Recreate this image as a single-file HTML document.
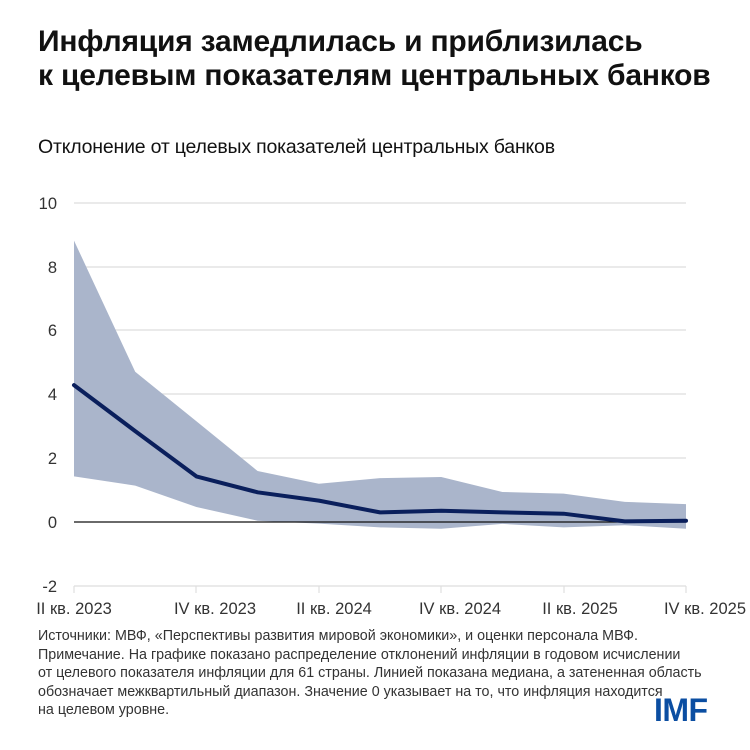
<!DOCTYPE html>
<html><head><meta charset="utf-8"><style>
body{margin:0;width:750px;height:750px;background:#fff;overflow:hidden;font-family:"Liberation Sans",sans-serif;color:#111;position:relative}
.t{position:absolute;left:38px;top:25px;font-size:30px;font-weight:bold;line-height:34px;letter-spacing:-0.2px}
.s{position:absolute;left:38px;top:136px;font-size:19.5px;letter-spacing:-0.2px}
.n{position:absolute;left:38px;top:627px;font-size:14.3px;line-height:18.6px;color:#333;width:690px}
.imf{position:absolute;left:654px;top:692px;font-size:32px;font-weight:bold;color:#0b4ea2;letter-spacing:-0.5px}
svg{position:absolute;left:0;top:0}
svg text{font-family:"Liberation Sans",sans-serif;font-size:16.5px;fill:#333}
</style></head><body>
<div class="t">Инфляция замедлилась и приблизилась<br>к целевым показателям центральных банков</div>
<div class="s">Отклонение от целевых показателей центральных банков</div>
<svg width="750" height="750">
<g stroke="#dedede" stroke-width="1.2">
<line x1="74" x2="686" y1="203" y2="203"/><line x1="74" x2="686" y1="267" y2="267"/>
<line x1="74" x2="686" y1="330" y2="330"/><line x1="74" x2="686" y1="394" y2="394"/>
<line x1="74" x2="686" y1="458" y2="458"/><line x1="74" x2="686" y1="586" y2="586"/>
<line x1="74" x2="74" y1="586" y2="593"/><line x1="196" x2="196" y1="586" y2="593"/>
<line x1="319" x2="319" y1="586" y2="593"/><line x1="441" x2="441" y1="586" y2="593"/>
<line x1="564" x2="564" y1="586" y2="593"/><line x1="686" x2="686" y1="586" y2="593"/>
</g>
<polygon fill="#aab5cb" points="74,240.6 135.2,371.8 196.4,421.2 257.6,471 318.8,483.7 380,478.1 441.2,477 502.4,492 563.6,493.6 624.8,501.9 686,504.1 686,528.7 624.8,525.2 563.6,527.4 502.4,523.9 441.2,528.7 380,527.4 318.8,523.6 257.6,520.7 196.4,507 135.2,485.6 74,476.4"/>
<line x1="74" x2="686" y1="522" y2="522" stroke="#111" stroke-width="1.3"/>
<polyline fill="none" stroke="#0a1f5c" stroke-width="4" stroke-linejoin="round" stroke-linecap="round" points="74,385.1 135.2,431.1 196.4,476.4 257.6,492.3 318.8,500.6 380,512.4 441.2,510.8 502.4,512.4 563.6,513.7 624.8,521.4 686,520.7"/>
<g text-anchor="end">
<text x="57" y="209">10</text><text x="57" y="273">8</text><text x="57" y="336">6</text>
<text x="57" y="400">4</text><text x="57" y="464">2</text><text x="57" y="528">0</text><text x="57" y="592">-2</text>
</g>
<g text-anchor="middle">
<text x="74" y="614">II кв. 2023</text><text x="215" y="614">IV кв. 2023</text>
<text x="334" y="614">II кв. 2024</text><text x="460" y="614">IV кв. 2024</text>
<text x="580" y="614">II кв. 2025</text><text x="705" y="614">IV кв. 2025</text>
</g>
</svg>
<div class="n">Источники: МВФ, «Перспективы развития мировой экономики», и оценки персонала МВФ.<br>Примечание. На графике показано распределение отклонений инфляции в годовом исчислении<br>от целевого показателя инфляции для 61 страны. Линией показана медиана, а затененная область<br>обозначает межквартильный диапазон. Значение 0 указывает на то, что инфляция находится<br>на целевом уровне.</div>
<div class="imf">IMF</div>
</body></html>
